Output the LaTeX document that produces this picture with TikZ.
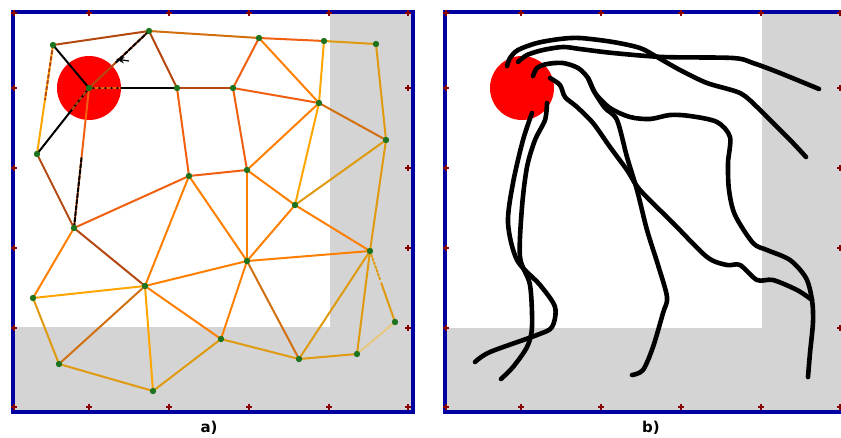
\documentclass[tikz,border=0pt]{standalone}
\usepackage{fontspec}
\setmainfont{DejaVu Sans}
\usepackage{xcolor}
\usetikzlibrary{arrows.meta,calc}

\definecolor{framenavy}{RGB}{0,0,160}
\definecolor{tickred}{RGB}{139,0,0}
\definecolor{zonegray}{RGB}{212,212,212}
\definecolor{nodegreen}{RGB}{30,115,30}
\definecolor{meshbrown}{RGB}{180,72,16}
\definecolor{meshdark}{RGB}{210,112,16}
\definecolor{meshred}{RGB}{240,96,16}
\definecolor{meshorange}{RGB}{255,128,0}
\definecolor{meshyellow}{RGB}{255,165,0}
\definecolor{meshgold}{RGB}{224,154,16}
\definecolor{meshtan}{RGB}{232,200,128}

\begin{document}
\begin{tikzpicture}[
    x=1pt,
    y=-1pt,
    font=\fontsize{15}{17}\selectfont\bfseries,
    >=Stealth,
    frame/.style={
        draw=framenavy,
        line width=4pt
    },
    tick/.style={
        draw=tickred,
        line width=1.6pt
    },
    mesh/.style={
        line width=2pt,
        line cap=round
    },
    track/.style={
        line width=4.6pt,
        line cap=round,
        line join=round
    }
]

\useasboundingbox (0,0) rectangle (841,437);
\clip (0,0) rectangle (841,437);

% Backgrounds: grey outer zone, white inner zone
\fill[zonegray] (13,12) rectangle (413,412);
\fill[white] (13,12) rectangle (330,327);

\fill[zonegray] (445,12) rectangle (845,412);
\fill[white] (445,12) rectangle (762,328);

% Target discs
\fill[red] (89,88) circle (32);
\fill[red] (522,88) circle (32);


% Panel a: mesh nodes
\coordinate (c) at (89,88);
\coordinate (n1) at (53,45);
\coordinate (n2) at (149,31);
\coordinate (n3) at (177,88);
\coordinate (n4) at (37,154);
\coordinate (n5) at (189,176);
\coordinate (n6) at (259,38);
\coordinate (n7) at (324,41);
\coordinate (n8) at (376,44);
\coordinate (n9) at (233,88);
\coordinate (n10) at (319,103);
\coordinate (n11) at (386,140);
\coordinate (n12) at (247,170);
\coordinate (n13) at (295,205);
\coordinate (n14) at (74,228);
\coordinate (n15) at (145,286);
\coordinate (n16) at (33,298);
\coordinate (n17) at (59,364);
\coordinate (n18) at (153,391);
\coordinate (n19) at (247,261);
\coordinate (n20) at (221,339);
\coordinate (n21) at (299,359);
\coordinate (n22) at (357,354);
\coordinate (n23) at (370,251);
\coordinate (n24) at (395,322);

% Panel a: mesh edges
\foreach \a/\b in {n1/n2, n2/c, n2/n3, n3/n9, n4/n14, n14/n15}
    \draw[mesh, meshbrown] (\a) -- (\b);

\foreach \a/\b in {n2/n6, n10/n11, n15/n17, n19/n21}
    \draw[mesh, meshdark] (\a) -- (\b);

\foreach \a/\b in {n3/n5, n6/n9, n9/n10, n9/n12, n5/n14, c/n14, n5/n12, n6/n7}
    \draw[mesh, meshred] (\a) -- (\b);

\foreach \a/\b in {n6/n10, n10/n12, n5/n15, n5/n19, n12/n19, n12/n13,
                   n13/n19, n14/n16, n15/n19, n15/n20, n19/n20, n19/n23, n13/n23}
    \draw[mesh, meshorange] (\a) -- (\b);

\foreach \a/\b in {n7/n10, n10/n13, n15/n16, n15/n18, n1/n4}
    \draw[mesh, meshyellow] (\a) -- (\b);

\foreach \a/\b in {n7/n8, n8/n11, n11/n13, n11/n23, n16/n17, n17/n18,
                   n18/n20, n20/n21, n21/n22, n21/n23, n22/n23}
    \draw[mesh, meshgold] (\a) -- (\b);

\draw[mesh, meshtan] (n22) -- (n24);

% dotted start of the last edge
\draw[mesh, meshgold, dotted] (n23) -- ($(n23)!0.42!(n24)$);
\draw[mesh, meshgold] ($(n23)!0.45!(n24)$) -- (n24);

% Panel a: path from the disc
\foreach \b in {n1, n3, n4}
    \draw[mesh, black] (c) -- (\b);

\draw[mesh, meshred, dash pattern=on 3pt off 3pt] (c) -- ($(c)!0.35!(n3)$);
\draw[mesh, meshbrown, dash pattern=on 3pt off 3pt] (c) -- ($(c)!0.35!(n4)$);
\draw[mesh, black, dash pattern=on 4pt off 2pt] (n2) -- ($(n2)!0.55!(c)$);
\draw[mesh, black, dash pattern=on 4pt off 2pt] ($(c)!0.5!(n14)$) -- (n14);
\draw[mesh, meshbrown, dash pattern=on 3pt off 3pt] (n1) -- ($(n1)!0.5!(n4)$);

\coordinate (flowtail) at (129,61);
\coordinate (flowhead) at (116,59);
\draw[->, line width=1.2pt] (flowtail) -- (flowhead);

\foreach \n in {n1,n2,n3,n4,n5,n6,n7,n8,n9,n10,n11,n12,
                n13,n14,n15,n16,n17,n18,n19,n20,n21,n22,n23,n24,c}
    \fill[nodegreen] (\n) circle (3.2);


% Panel b: trajectories
\draw[track] plot[smooth] coordinates {
    (507,66) (510,58) (518,50) (537,43) (560,39) (580,38) (613,42)
    (640,48) (657,57) (680,70) (707,83) (740,93) (757,107) (773,123)
    (793,143) (806,157)};

\draw[track] plot[smooth] coordinates {
    (518,62) (527,55) (543,50) (563,47) (580,49) (613,53) (663,57)
    (733,58) (753,63) (780,73) (819,89)};

\draw[track] plot[smooth] coordinates {
    (533,76) (537,68) (547,64) (563,63) (578,68) (588,78) (595,93)
    (610,108) (630,117) (650,119) (670,115) (690,116) (717,122)
    (730,137) (728,163) (729,190) (735,215) (753,243) (767,250)
    (790,260) (806,278) (812,300) (813,322) (810,353) (808,377)};

\draw[track] plot[smooth] coordinates {
    (588,78) (595,93) (605,108) (617,120) (627,157) (637,190)
    (647,230) (658,265) (667,297) (663,313) (653,347) (643,370)
    (632,375)};

\draw[track] plot[smooth] coordinates {
    (550,78) (560,85) (565,97) (577,107) (593,123) (610,147)
    (627,170) (640,190) (673,223) (707,257) (727,265) (740,265)
    (757,280) (773,280) (797,290) (812,300)};

\draw[track] plot[smooth] coordinates {
    (532,113) (523,140) (513,183) (508,223) (517,260) (540,285)
    (555,307) (552,327) (537,335) (490,352) (475,362)};

\draw[track] plot[smooth] coordinates {
    (547,103) (545,120) (535,140) (527,167) (522,207) (520,257)
    (530,285) (532,327) (527,347) (513,367) (501,379)};


% Frames and ticks
\draw[frame] (13,12) rectangle (413,412);
\draw[frame] (445,12) rectangle (845,412);

\foreach \ox in {0,432} {
    \foreach \t in {14,89,169,249,329,408} {
        \draw[tick] (\ox+\t-3,13) -- (\ox+\t+3,13) (\ox+\t,10) -- (\ox+\t,16);
        \draw[tick] (\ox+\t-3,407) -- (\ox+\t+3,407) (\ox+\t,404) -- (\ox+\t,410);
    }
    \foreach \t in {88,168,248,328} {
        \draw[tick] (\ox+11,\t) -- (\ox+17,\t) (\ox+14,\t-3) -- (\ox+14,\t+3);
        \draw[tick] (\ox+405,\t) -- (\ox+411,\t) (\ox+408,\t-3) -- (\ox+408,\t+3);
    }
}

% Captions
\node (capa) at (209,428) {a)};
\node (capb) at (651,428) {b)};

\end{tikzpicture}
\end{document}
